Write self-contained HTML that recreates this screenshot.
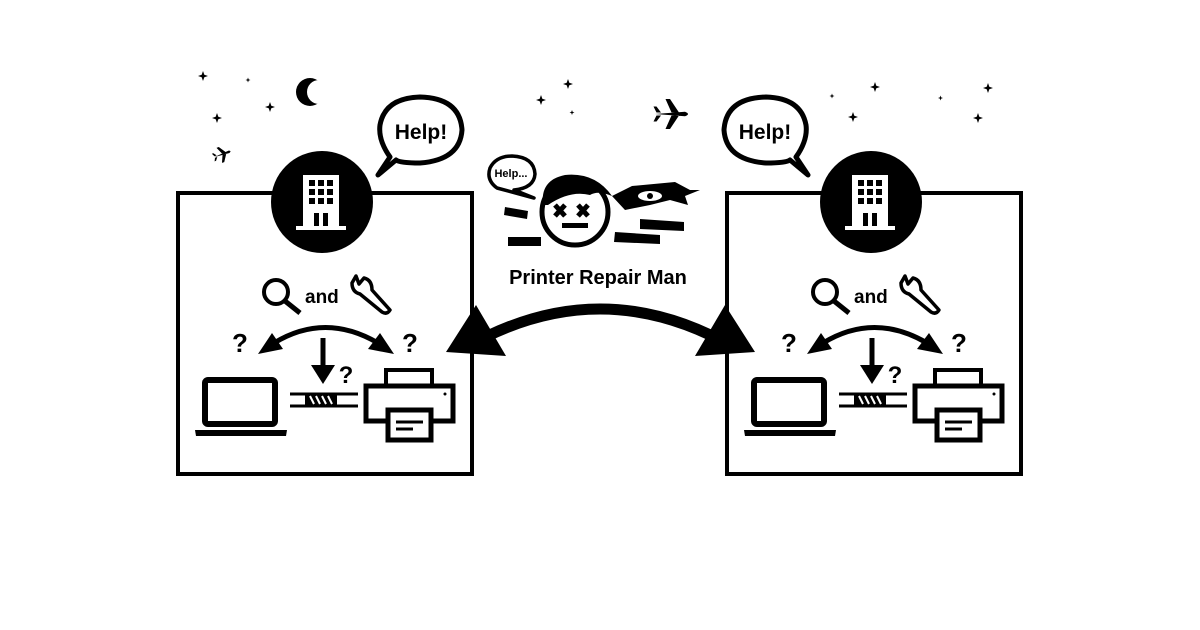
<!DOCTYPE html>
<html><head><style>body{margin:0;background:#fff}svg{display:block}text{font-family:"Liberation Sans",sans-serif;font-weight:bold}</style></head><body>
<svg width="1200" height="630" viewBox="0 0 1200 630">
<defs>
<path id="st" d="M0,-5 L1.3,-1.3 L5,0 L1.3,1.3 L0,5 L-1.3,1.3 L-5,0 L-1.3,-1.3Z"/>
<path id="pl" d="M-12,0 L8,-1.5 Q12,0 8,1.5 Z M-1,-1 L-5,-10 L-2,-10 L4,-1Z M-1,1 L-5,10 L-2,10 L4,1Z M-11,-1 L-13,-5 L-11,-5 L-8,-1Z M-11,1 L-13,5 L-11,5 L-8,1Z"/>
<g id="panel">
<rect x="178" y="193" width="294" height="281" fill="#fff" stroke="#000" stroke-width="4"/>
<circle cx="322" cy="202" r="51" fill="#000"/>
<g fill="#fff"><rect x="303" y="175" width="36" height="52"/><rect x="296" y="226" width="50" height="4"/></g>
<g fill="#000"><rect x="309" y="180" width="6" height="6"/><rect x="318" y="180" width="6" height="6"/><rect x="327" y="180" width="6" height="6"/><rect x="309" y="189" width="6" height="6"/><rect x="318" y="189" width="6" height="6"/><rect x="327" y="189" width="6" height="6"/><rect x="309" y="198" width="6" height="6"/><rect x="318" y="198" width="6" height="6"/><rect x="327" y="198" width="6" height="6"/><rect x="314" y="213" width="5" height="13"/><rect x="323" y="213" width="5" height="13"/></g>
<circle cx="276" cy="292" r="12" fill="none" stroke="#000" stroke-width="4"/>
<line x1="285" y1="301" x2="300" y2="313" stroke="#000" stroke-width="5"/>
<text x="305" y="303" font-size="19">and</text>
<path d="M356,276 L352,283 Q352,292 360,294 L382,312 Q387,315 390,310 L372,290 Q372,280 364,278 L359,284 Z" fill="#fff" stroke="#000" stroke-width="3.5" stroke-linejoin="round"/>
<text x="240" y="352" font-size="26" text-anchor="middle">?</text>
<text x="410" y="352" font-size="26" text-anchor="middle">?</text>
<path d="M274,343 Q325,312 378,343" fill="none" stroke="#000" stroke-width="5"/>
<path d="M258,354 L272,333 L283,349Z M394,354 L380,333 L368,349Z" fill="#000"/>
<line x1="323" y1="338" x2="323" y2="368" stroke="#000" stroke-width="5"/>
<path d="M311,365 L335,365 L323,384Z" fill="#000"/>
<text x="346" y="383" font-size="24" text-anchor="middle">?</text>
<rect x="205" y="380" width="70" height="44" rx="3" fill="none" stroke="#000" stroke-width="6"/>
<path d="M195,430 L287,430 L286,436 L196,436Z" fill="#000"/>
<g stroke="#000" stroke-width="3"><line x1="290" y1="394" x2="358" y2="394"/><line x1="290" y1="406" x2="358" y2="406"/></g>
<rect x="305" y="394" width="32" height="12" fill="#000"/>
<g stroke="#fff" stroke-width="2"><line x1="310" y1="396" x2="314" y2="404"/><line x1="316" y1="396" x2="320" y2="404"/><line x1="322" y1="396" x2="326" y2="404"/><line x1="328" y1="396" x2="332" y2="404"/></g>
<rect x="386" y="370" width="46" height="17" fill="#fff" stroke="#000" stroke-width="4"/>
<rect x="366" y="386" width="87" height="35" fill="#fff" stroke="#000" stroke-width="5"/>
<circle cx="445" cy="394" r="1.5" fill="#000"/>
<rect x="388" y="410" width="43" height="30" fill="#fff" stroke="#000" stroke-width="5"/>
<line x1="396" y1="422" x2="423" y2="422" stroke="#000" stroke-width="3"/><line x1="396" y1="429" x2="413" y2="429" stroke="#000" stroke-width="3"/>
</g>
<path id="bub" d="M390,157 Q378,140 380,125 Q385,98 420,97 Q460,98 462,130 Q460,160 420,163 Q400,163 396,160 L378,175 Z" fill="#fff" stroke="#000" stroke-width="5" stroke-linejoin="round"/>
</defs>
<use href="#panel"/>
<use href="#panel" transform="translate(549,0)"/>
<use href="#bub"/>
<text x="421" y="139" font-size="21" text-anchor="middle">Help!</text>
<use href="#bub" transform="translate(1186,0) scale(-1,1)"/>
<text x="765" y="139" font-size="21" text-anchor="middle">Help!</text>
<g fill="#000">
<use href="#st" x="203" y="76"/><use href="#st" x="248" y="80" transform="translate(124,40) scale(0.5)"/><use href="#st" x="270" y="107"/><use href="#st" x="217" y="118"/>
<use href="#st" x="568" y="84"/><use href="#st" x="541" y="100"/><use href="#st" x="572" y="113" transform="translate(286,56) scale(0.5)"/>
<use href="#st" x="832" y="96" transform="translate(416,48) scale(0.5)"/><use href="#st" x="875" y="87"/><use href="#st" x="853" y="117"/><use href="#st" x="941" y="98" transform="translate(470,49) scale(0.5)"/><use href="#st" x="988" y="88"/><use href="#st" x="978" y="118"/>
<circle cx="310" cy="92" r="14"/>
<use href="#pl" transform="translate(223,154) rotate(-20) scale(0.8)"/>
<use href="#pl" transform="translate(673,114) scale(1.5)"/>
</g>
<circle cx="319" cy="92" r="12" fill="#fff"/>
<path d="M465,348 Q600,270 735,348" fill="none" stroke="#000" stroke-width="11"/>
<path d="M446,352 L476,305 L506,356Z M755,352 L725,305 L695,356Z" fill="#000"/>
<path d="M497,188 Q486,180 490,168 Q496,156 512,156 Q534,157 535,174 Q534,188 514,190 L534,198Z" fill="#fff" stroke="#000" stroke-width="3.5" stroke-linejoin="round"/>
<text x="511" y="177" font-size="11" text-anchor="middle">Help...</text>
<path d="M612,196 L632,186 L675,182 L690,190 L700,190 L685,196 L688,205 L670,200 L650,205 L625,210Z" fill="#000"/>
<ellipse cx="650" cy="196" rx="12" ry="5" fill="#fff"/><circle cx="650" cy="196" r="3" fill="#000"/>
<circle cx="575" cy="212" r="33" fill="#fff" stroke="#000" stroke-width="5"/>
<path d="M543,205 Q540,180 565,175 Q595,172 612,196 Q598,190 590,195 Q570,190 548,205Z" fill="#000"/>
<g stroke="#000" stroke-width="5"><line x1="555" y1="205" x2="565" y2="216"/><line x1="565" y1="205" x2="555" y2="216"/><line x1="578" y1="205" x2="588" y2="216"/><line x1="588" y1="205" x2="578" y2="216"/></g>
<rect x="562" y="223" width="26" height="5" fill="#000"/>
<g fill="#000"><path d="M505,207 L528,211 L527,219 L504,215Z"/><rect x="508" y="237" width="33" height="9"/><path d="M640,219 L684,222 L684,231 L640,229Z"/><path d="M615,232 L660,235 L660,244 L614,242Z"/></g>
<text x="598" y="284" font-size="20" text-anchor="middle">Printer Repair Man</text>
</svg>
</body></html>
